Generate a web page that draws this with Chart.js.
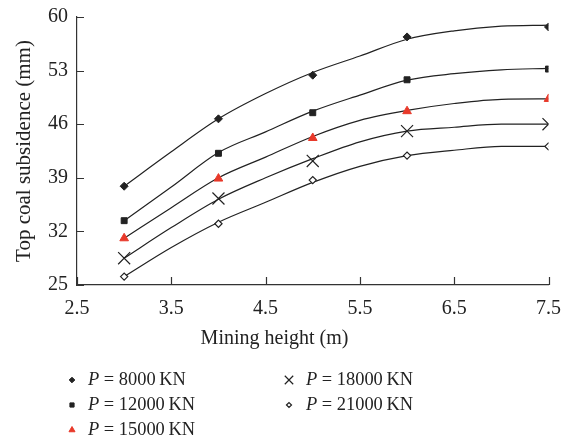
<!DOCTYPE html>
<html lang="en">
<head>
    <meta charset="UTF-8">
    <title>Top coal subsidence vs mining height</title>
    <style>
        * {
            margin: 0;
            padding: 0;
            box-sizing: border-box;
        }

        body {
            background: #fff;
            width: 573px;
            height: 443px;
            overflow: hidden;
        }

        .chart-box {
            position: relative;
            width: 573px;
            height: 443px;
        }
    </style>
</head>
<body>
    <div class="chart-box">
        <canvas id="chart"></canvas>
    </div>

    <script src="https://cdn.jsdelivr.net/npm/chart.js"></script>
    <script>
        const miningHeight = [3, 4, 5, 6, 7.5];
        const p8000 = [37.9, 46.7, 52.4, 57.4, 58.7];
        const p12000 = [33.4, 42.2, 47.5, 51.8, 53.2];
        const p15000 = [31.1, 38.9, 44.2, 47.7, 49.3];
        const p18000 = [28.5, 36.3, 41.2, 45.1, 46.0];
        const p21000 = [26.1, 33.0, 38.7, 41.9, 43.1];

        // Fitted curves
        const fitHeight = [3, 3.5, 4, 4.5, 5, 5.5, 6, 6.5, 7, 7.5];
        const fit8000 = [37.9, 42.4, 46.7, 50.0, 52.75, 54.9, 57.1, 58.2, 58.8, 58.95];
        const fit12000 = [33.4, 37.8, 42.3, 45.0, 47.7, 49.8, 51.75, 52.6, 53.1, 53.3];
        const fit15000 = [31.1, 35.1, 39.0, 41.7, 44.4, 46.5, 47.8, 48.7, 49.25, 49.3];
        const fit18000 = [28.5, 32.5, 36.2, 39.0, 41.5, 43.7, 45.1, 45.6, 46.0, 46.0];
        const fit21000 = [26.1, 29.9, 33.2, 35.8, 38.4, 40.5, 41.9, 42.6, 43.1, 43.1];

        const seriesLabels = ['8000', '12000', '15000', '18000', '21000'];
        const xTickLabels = ['2.5', '3.5', '4.5', '5.5', '6.5', '7.5'];
        const yTickLabels = ['25', '32', '39', '46', '53', '60'];

        const serif = "'Liberation Serif', 'DejaVu Serif', serif";
        const ink = '#222';
        const red = '#e8392a';

        // marker styles per series
        const markers = [
            { style: 'rectRot', radius: 4, fill: ink, stroke: ink, width: 1 },
            { style: 'rect', radius: 4.2, fill: ink, stroke: ink, width: 1 },
            { style: 'triangle', radius: 5, fill: red, stroke: red, width: 1 },
            { style: 'crossRot', radius: 8.5, fill: ink, stroke: ink, width: 1.2 },
            { style: 'rectRot', radius: 3.6, fill: '#fff', stroke: ink, width: 1.2 }
        ];

        function toPoints(xs, values) {
            return values.map((v, i) => ({ x: xs[i], y: v }));
        }

        const seriesValues = [p8000, p12000, p15000, p18000, p21000];
        const fitValues = [fit8000, fit12000, fit15000, fit18000, fit21000];

        const curveSets = fitValues.map(vals => ({
            data: toPoints(fitHeight, vals),
            borderColor: ink,
            borderWidth: 1.2,
            cubicInterpolationMode: 'monotone',
            pointRadius: 0,
            order: 2
        }));

        const pointSets = seriesValues.map((vals, i) => ({
            label: 'P = ' + seriesLabels[i] + ' KN',
            data: toPoints(miningHeight, vals),
            showLine: false,
            pointStyle: markers[i].style,
            pointRadius: markers[i].radius,
            pointBackgroundColor: markers[i].fill,
            pointBorderColor: markers[i].stroke,
            pointBorderWidth: markers[i].width,
            order: 1
        }));

        // inward tick marks on both axes
        const inwardTicks = {
            id: 'inwardTicks',
            afterDraw(chart) {
                const ctx = chart.ctx;
                const xs = chart.scales.x;
                const ys = chart.scales.y;
                const area = chart.chartArea;
                ctx.save();
                ctx.strokeStyle = '#333';
                ctx.lineWidth = 1.2;
                ctx.beginPath();
                xs.ticks.forEach(t => {
                    const px = Math.round(xs.getPixelForValue(t.value)) + 0.5;
                    ctx.moveTo(px, area.bottom);
                    ctx.lineTo(px, area.bottom - 8);
                });
                ys.ticks.forEach(t => {
                    const py = Math.round(ys.getPixelForValue(t.value)) + 0.5;
                    ctx.moveTo(area.left, py);
                    ctx.lineTo(area.left + 7, py);
                });
                ctx.stroke();
                ctx.restore();
            }
        };

        // two-column legend under the x title
        const legendCols = [{ mark: 72, text: 88 }, { mark: 289, text: 306 }];
        const legendRows = [380, 405, 430];

        const bottomLegend = {
            id: 'bottomLegend',
            afterDraw(chart) {
                const ctx = chart.ctx;
                ctx.save();
                ctx.textBaseline = 'middle';
                markers.forEach((m, i) => {
                    const col = legendCols[i < 3 ? 0 : 1];
                    const y = legendRows[i < 3 ? i : i - 3];
                    ctx.fillStyle = m.fill;
                    ctx.strokeStyle = m.stroke;
                    ctx.lineWidth = m.width;
                    Chart.helpers.drawPoint(ctx, {
                        pointStyle: m.style,
                        radius: m.radius * 0.7,
                        rotation: 0,
                        borderWidth: m.width
                    }, col.mark, y);

                    ctx.fillStyle = ink;
                    ctx.textAlign = 'left';
                    ctx.font = 'italic 18.4px ' + serif;
                    ctx.fillText('P', col.text, y);
                    const pw = ctx.measureText('P').width;
                    ctx.font = '18.4px ' + serif;
                    ctx.fillText(' = ' + seriesLabels[i] + '\u2009KN', col.text + pw, y);
                });
                ctx.restore();
            }
        };

        const ctx = document.getElementById('chart').getContext('2d');
        new Chart(ctx, {
            type: 'line',
            data: { datasets: curveSets.concat(pointSets) },
            plugins: [inwardTicks, bottomLegend],
            options: {
                responsive: true,
                maintainAspectRatio: false,
                animation: false,
                layout: {
                    padding: { top: 17, right: 24, bottom: 88, left: 0 }
                },
                plugins: {
                    legend: { display: false },
                    tooltip: { enabled: false },
                    title: {
                        display: true,
                        position: 'bottom',
                        text: 'Mining height (m)',
                        color: ink,
                        font: { family: serif, size: 20, weight: 'normal' },
                        padding: { top: 8, bottom: 4 }
                    }
                },
                scales: {
                    x: {
                        type: 'linear',
                        min: 2.5,
                        max: 7.5,
                        grid: { display: false, drawTicks: false },
                        border: { display: true, color: '#333', width: 1.2 },
                        ticks: {
                            stepSize: 1,
                            padding: 12,
                            color: ink,
                            font: { family: serif, size: 20 },
                            callback: (v, i) => xTickLabels[i]
                        },
                        afterFit: s => { s.height = 34; }
                    },
                    y: {
                        min: 25,
                        max: 60,
                        grid: { display: false, drawTicks: false },
                        border: { display: true, color: '#333', width: 1.2 },
                        ticks: {
                            stepSize: 7,
                            padding: 9,
                            color: ink,
                            font: { family: serif, size: 20 },
                            callback: (v, i) => yTickLabels[i]
                        },
                        title: {
                            display: true,
                            text: 'Top coal subsidence (mm)',
                            color: ink,
                            font: { family: serif, size: 21 },
                            padding: { top: 12, bottom: 0 }
                        },
                        afterFit: s => {
                            s.width = 77;
                            s.paddingTop = 0;
                            s.paddingBottom = 0;
                        }
                    }
                }
            }
        });
    </script>
</body>
</html>
